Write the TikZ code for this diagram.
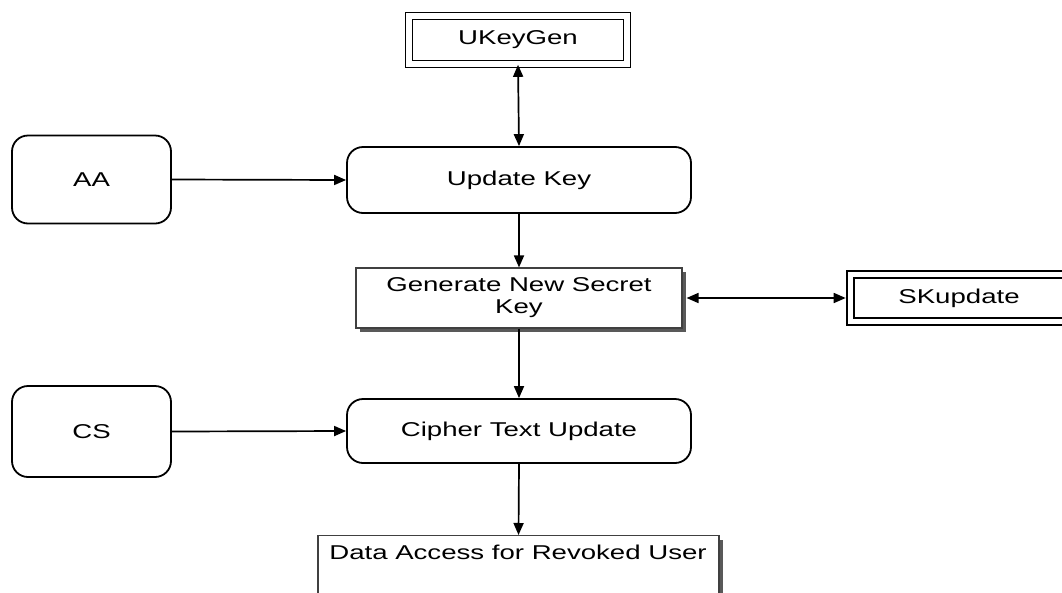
\documentclass[tikz,border=0pt]{standalone}
\usepackage{fontspec}
\setmainfont[FakeStretch=1.38]{Liberation Sans}
\usetikzlibrary{arrows.meta,shadows}
\begin{document}
\begin{tikzpicture}[x=1pt,y=-1pt,
  every node/.style={font=\fontsize{20}{22}\selectfont, inner sep=0pt},
  rbox/.style={draw, line width=1.8pt, rounded corners=16pt},
  dbox/.style={draw, line width=1.6pt, double, double distance=5.2pt},
  sbox/.style={draw=black!75, line width=1.1pt, fill=white,
    drop shadow={shadow xshift=4pt, shadow yshift=-4pt, fill=black!65, opacity=1}},
  arr/.style={line width=1.7pt, -{Triangle[length=12pt,width=10pt]}},
  darr/.style={line width=1.7pt, {Triangle[length=12pt,width=10pt]}-{Triangle[length=12pt,width=10pt]}}
]
\useasboundingbox (0,0) rectangle (1062,592);
\begin{scope}
\clip (0,0) rectangle (1062,592);
\node[dbox, minimum width=218pt, minimum height=48pt] (ukey) at (518,40) {UKeyGen};
\node[rbox, minimum width=159pt, minimum height=88pt] (aa) at (91.5,179.5) {AA};
\node[rbox, minimum width=344pt, minimum height=66pt] (upd) at (519,180) {Update Key};
\node[sbox, minimum width=326pt, minimum height=60pt, align=center] (gen) at (519,298) {Generate New Secret\\[0pt]Key};
\node[dbox, minimum width=217pt, minimum height=47pt] (sk) at (959,298) {SKupdate};
\node[rbox, minimum width=159pt, minimum height=91pt] (cs) at (91.5,431.5) {CS};
\node[rbox, minimum width=344pt, minimum height=64pt] (cip) at (519,431) {Cipher Text Update};
\node[sbox, minimum width=401pt, minimum height=80pt, anchor=north] (data) at (518.5,535) {};
\node (datatxt) at (518,552) {Data Access for Revoked User};
\end{scope}
\draw[darr] (ukey.south) -- (upd.north);
\draw[arr] (aa.east) -- (upd.west);
\draw[arr] (upd.south) -- (gen.north);
\draw[darr] ([xshift=4pt]gen.east) -- ([xshift=-4pt]sk.west);
\draw[arr] (gen.south) -- (cip.north);
\draw[arr] (cs.east) -- (cip.west);
\draw[arr] (cip.south) -- (data.north);
\end{tikzpicture}
\end{document}
